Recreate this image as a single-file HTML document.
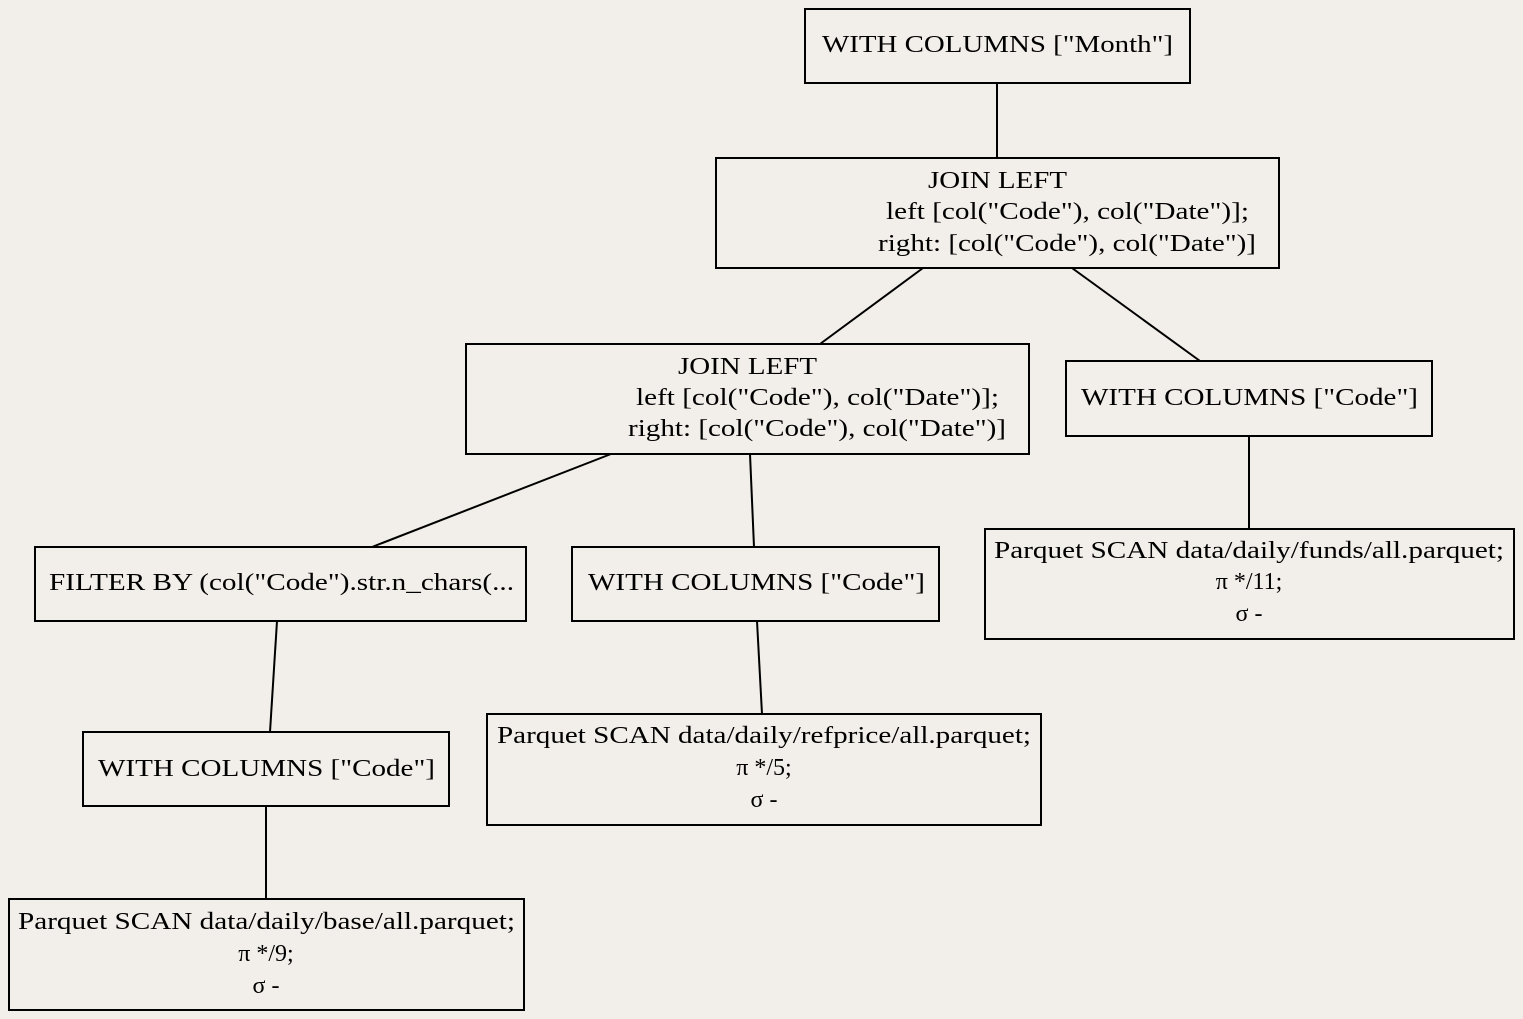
<!DOCTYPE html>
<html><head><meta charset="utf-8"><style>
html,body{margin:0;padding:0;background:#f2eee9;}
svg{display:block}
text{font-family:"Liberation Serif",serif;font-size:24px;fill:#000;dominant-baseline:central}
rect{fill:none;stroke:#000;stroke-width:2}
line{stroke:#000;stroke-width:2}
</style></head><body>
<svg width="1523" height="1019" viewBox="0 0 1523 1019" xmlns="http://www.w3.org/2000/svg">
<rect x="0" y="0" width="1523" height="1019" style="fill:#f2eee9;stroke:none"/>
<line x1="997" y1="83" x2="997" y2="158"/>
<line x1="923" y1="268" x2="820" y2="344"/>
<line x1="1072" y1="268" x2="1200" y2="361"/>
<line x1="611" y1="454" x2="372" y2="547"/>
<line x1="750" y1="454" x2="754" y2="547"/>
<line x1="1249" y1="436" x2="1249" y2="529"/>
<line x1="277" y1="621" x2="270" y2="732"/>
<line x1="757" y1="621" x2="762" y2="714"/>
<line x1="266" y1="806" x2="266" y2="899"/>

<rect x="805" y="9" width="385" height="74"/>
<text x="822" y="45" textLength="351" lengthAdjust="spacingAndGlyphs">WITH COLUMNS ["Month"]</text>

<rect x="716" y="158" width="563" height="110"/>
<text x="928" y="181" textLength="139" lengthAdjust="spacingAndGlyphs">JOIN LEFT</text>
<text x="886" y="212" textLength="363" lengthAdjust="spacingAndGlyphs">left [col("Code"), col("Date")];</text>
<text x="878" y="244" textLength="378" lengthAdjust="spacingAndGlyphs">right: [col("Code"), col("Date")]</text>

<rect x="466" y="344" width="563" height="110"/>
<text x="678" y="367" textLength="139" lengthAdjust="spacingAndGlyphs">JOIN LEFT</text>
<text x="636" y="398" textLength="363" lengthAdjust="spacingAndGlyphs">left [col("Code"), col("Date")];</text>
<text x="628" y="429" textLength="378" lengthAdjust="spacingAndGlyphs">right: [col("Code"), col("Date")]</text>

<rect x="1066" y="361" width="366" height="75"/>
<text x="1081" y="398" textLength="337" lengthAdjust="spacingAndGlyphs">WITH COLUMNS ["Code"]</text>

<rect x="985" y="529" width="529" height="110"/>
<text x="994" y="551" textLength="510" lengthAdjust="spacingAndGlyphs">Parquet SCAN data/daily/funds/all.parquet;</text>
<text x="1249" y="582" text-anchor="middle">π */11;</text>
<text x="1249" y="614" text-anchor="middle">σ -</text>

<rect x="35" y="547" width="491" height="74"/>
<text x="49" y="583" textLength="465" lengthAdjust="spacingAndGlyphs">FILTER BY (col("Code").str.n_chars(...</text>

<rect x="572" y="547" width="367" height="74"/>
<text x="588" y="583" textLength="337" lengthAdjust="spacingAndGlyphs">WITH COLUMNS ["Code"]</text>

<rect x="487" y="714" width="554" height="111"/>
<text x="497" y="736" textLength="534" lengthAdjust="spacingAndGlyphs">Parquet SCAN data/daily/refprice/all.parquet;</text>
<text x="764" y="768" text-anchor="middle">π */5;</text>
<text x="764" y="800" text-anchor="middle">σ -</text>

<rect x="83" y="732" width="366" height="74"/>
<text x="98" y="769" textLength="337" lengthAdjust="spacingAndGlyphs">WITH COLUMNS ["Code"]</text>

<rect x="9" y="899" width="515" height="111"/>
<text x="18" y="922" textLength="497" lengthAdjust="spacingAndGlyphs">Parquet SCAN data/daily/base/all.parquet;</text>
<text x="266" y="954" text-anchor="middle">π */9;</text>
<text x="266" y="986" text-anchor="middle">σ -</text>
</svg>
</body></html>
